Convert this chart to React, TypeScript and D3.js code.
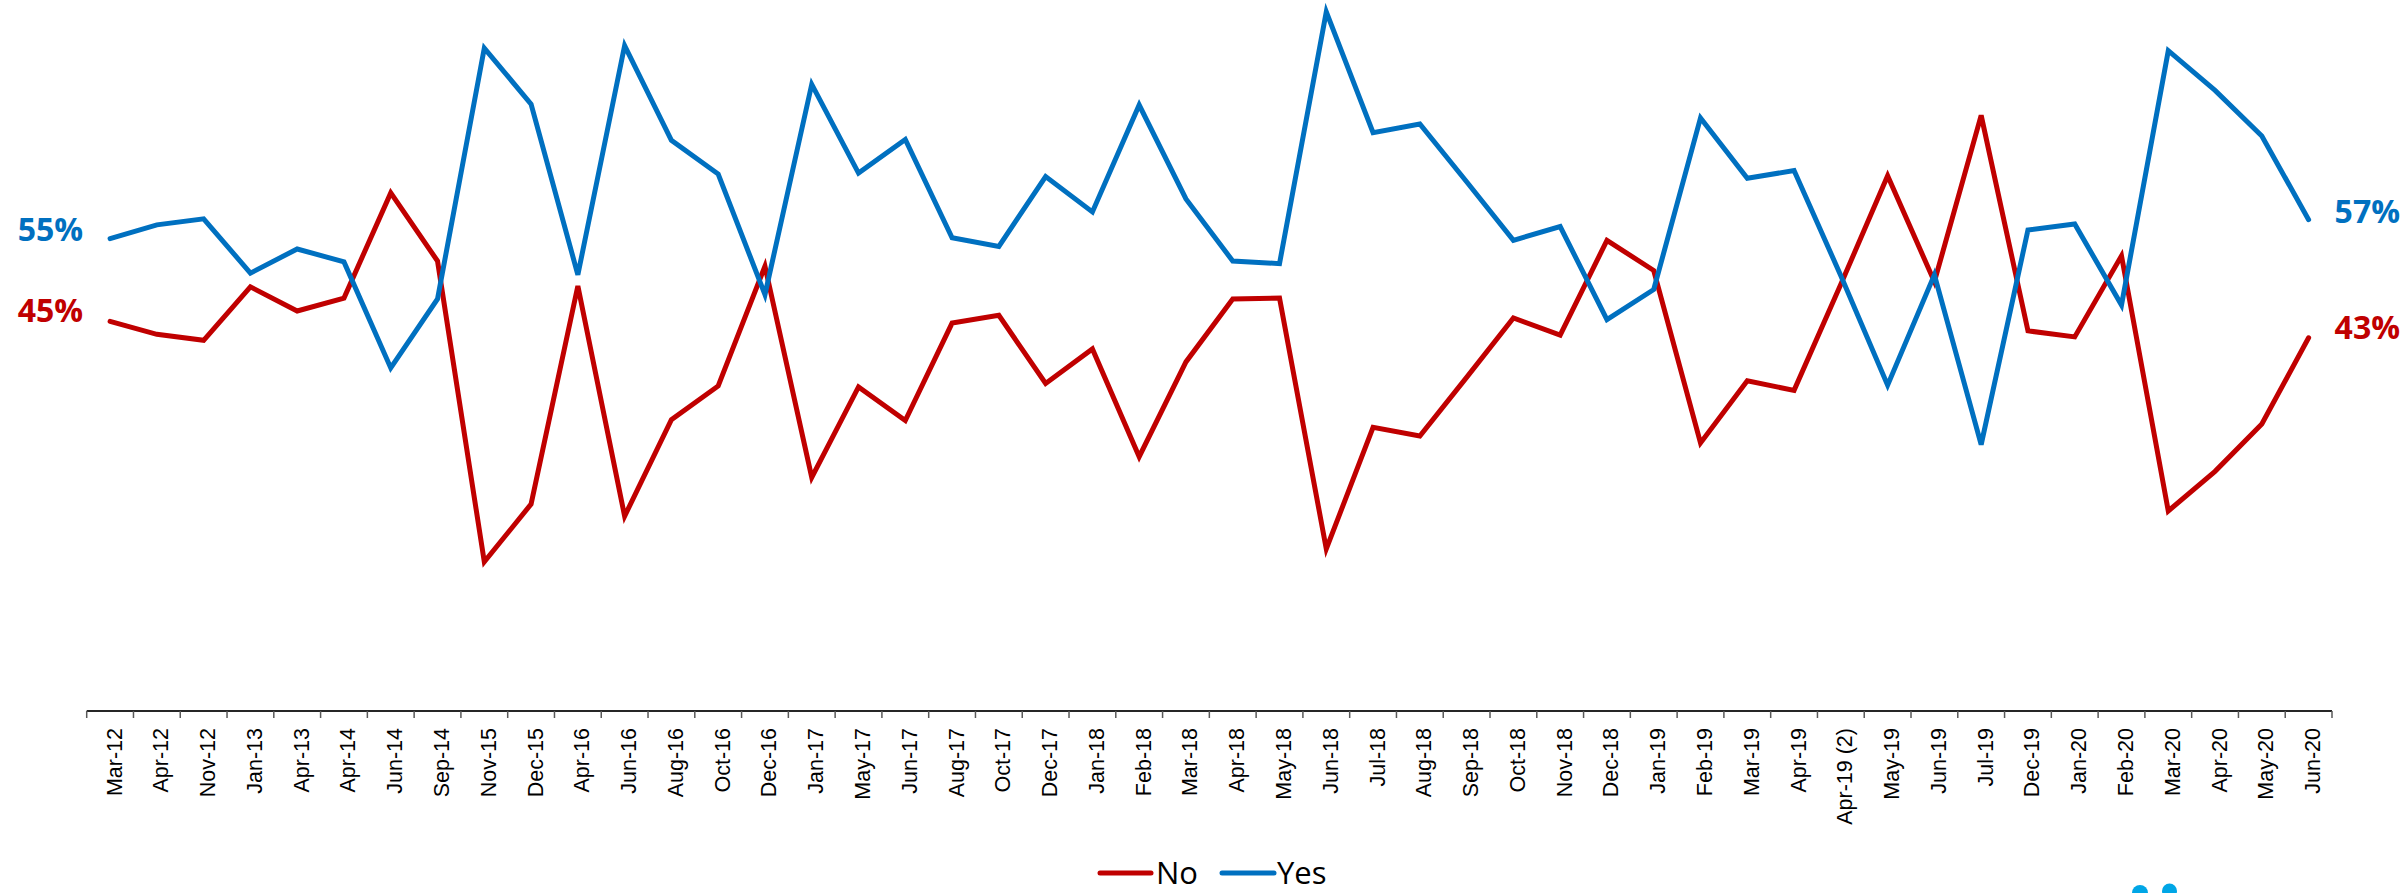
import React from "react";
import * as d3 from "d3";

const categories = [
  "Mar-12", "Apr-12", "Nov-12", "Jan-13", "Apr-13", "Apr-14", "Jun-14", "Sep-14",
  "Nov-15", "Dec-15", "Apr-16", "Jun-16", "Aug-16", "Oct-16", "Dec-16", "Jan-17",
  "May-17", "Jun-17", "Aug-17", "Oct-17", "Dec-17", "Jan-18", "Feb-18", "Mar-18",
  "Apr-18", "May-18", "Jun-18", "Jul-18", "Aug-18", "Sep-18", "Oct-18", "Nov-18",
  "Dec-18", "Jan-19", "Feb-19", "Mar-19", "Apr-19", "Apr-19 (2)", "May-19", "Jun-19",
  "Jul-19", "Dec-19", "Jan-20", "Feb-20", "Mar-20", "Apr-20", "May-20", "Jun-20",
];

const yesValues = [
  54.8, 56.4, 57.1, 50.8, 53.6, 52.1, 39.8, 47.8, 76.9, 70.4, 50.6, 77.2, 66.2, 62.3, 48.3, 72.7,
  62.4, 66.3, 54.9, 53.9, 62.0, 57.9, 70.3, 59.4, 52.2, 51.9, 81.1, 67.1, 68.1, 61.4, 54.6, 56.2,
  45.4, 48.9, 68.8, 61.8, 62.7, 50.5, 37.8, 50.6, 30.9, 55.8, 56.5, 47.1, 76.6, 72.0, 66.7, 57.0,
];

const noValues = [
  45.2, 43.7, 43.0, 49.2, 46.4, 47.9, 60.1, 52.2, 17.3, 24.0, 49.3, 22.6, 33.8, 37.7, 51.6, 27.1,
  37.6, 33.7, 45.0, 45.9, 38.0, 42.0, 29.5, 40.5, 47.8, 47.9, 18.8, 32.9, 31.9, 38.7, 45.6, 43.6,
  54.6, 51.1, 31.1, 38.3, 37.2, 49.5, 62.1, 49.8, 69.1, 44.1, 43.4, 52.8, 23.2, 27.8, 33.3, 43.3,
];

const firstLabels = ["55%", "45%"];
const lastLabels = ["57%", "43%"];
const seriesNames = ["No", "Yes"];

const W = 2407;
const H = 893;
const YES = "#0070C0";
const NO = "#C00000";

export default function App() {
  const x = d3.scaleBand<string>().domain(categories).range([86.7, 2332]).padding(0);
  const y = d3.scaleLinear().domain([0, 80]).range([711, 21.4]);
  const cx = (c: string) => (x(c) as number) + x.bandwidth() / 2;

  const line = d3
    .line<number>()
    .x((_, i) => cx(categories[i]))
    .y((d) => y(d));

  const boundaries = categories.map((c) => x(c) as number).concat([x.range()[1]]);
  const y0 = y(0);
  const last = categories.length - 1;

  return (
    <svg
      width={W}
      height={H}
      style={{ position: "absolute", left: 0, top: 0, background: "#fff" }}
    >
      <rect x={0} y={0} width={W} height={H} fill="#fff" />
      {/* axis */}
      <line x1={x.range()[0]} x2={x.range()[1]} y1={y0} y2={y0} stroke="#262626" strokeWidth={2} />
      {boundaries.map((bx, i) => (
        <line key={"t" + i} x1={bx} x2={bx} y1={y0} y2={y0 + 7} stroke="#595959" strokeWidth={1.5} />
      ))}
      {categories.map((c) => (
        <text
          key={c}
          transform={`translate(${cx(c) + 11.5},${y0 + 17}) rotate(-90)`}
          textAnchor="end"
          fontFamily="'Liberation Sans', Arial, sans-serif"
          fontSize={21.5}
          fill="#000"
        >
          {c}
        </text>
      ))}

      {/* lines */}
      <path d={line(noValues) || ""} fill="none" stroke={NO} strokeWidth={5} strokeLinecap="round" strokeLinejoin="miter" />
      <path d={line(yesValues) || ""} fill="none" stroke={YES} strokeWidth={5} strokeLinecap="round" strokeLinejoin="miter" />

      {/* end labels */}
      <g fontFamily="'Open Sans', sans-serif" fontWeight={700} fontSize={32}>
        <text x={cx(categories[0]) - 27} y={y(yesValues[0]) + 2} textAnchor="end" fill={YES}>{firstLabels[0]}</text>
        <text x={cx(categories[0]) - 27} y={y(noValues[0]) + 1} textAnchor="end" fill={NO}>{firstLabels[1]}</text>
        <text x={cx(categories[last]) + 26} y={y(yesValues[last]) + 3} textAnchor="start" fill={YES}>{lastLabels[0]}</text>
        <text x={cx(categories[last]) + 26} y={y(noValues[last]) + 1} textAnchor="start" fill={NO}>{lastLabels[1]}</text>
      </g>

      {/* legend */}
      <g fontFamily="'Open Sans', sans-serif" fontSize={31} fill="#000">
        <line x1={1100} x2={1151} y1={873} y2={873} stroke={NO} strokeWidth={5} strokeLinecap="round" />
        <text x={1156} y={883.5}>{seriesNames[0]}</text>
        <line x1={1222} x2={1274} y1={873} y2={873} stroke={YES} strokeWidth={5} strokeLinecap="round" />
        <text x={1277} y={883.5}>{seriesNames[1]}</text>
      </g>

      {/* logo fragment */}
      <circle cx={2140} cy={893} r={8} fill="#00A6E6" />
      <circle cx={2169.5} cy={891} r={7.5} fill="#00A6E6" />
    </svg>
  );
}
